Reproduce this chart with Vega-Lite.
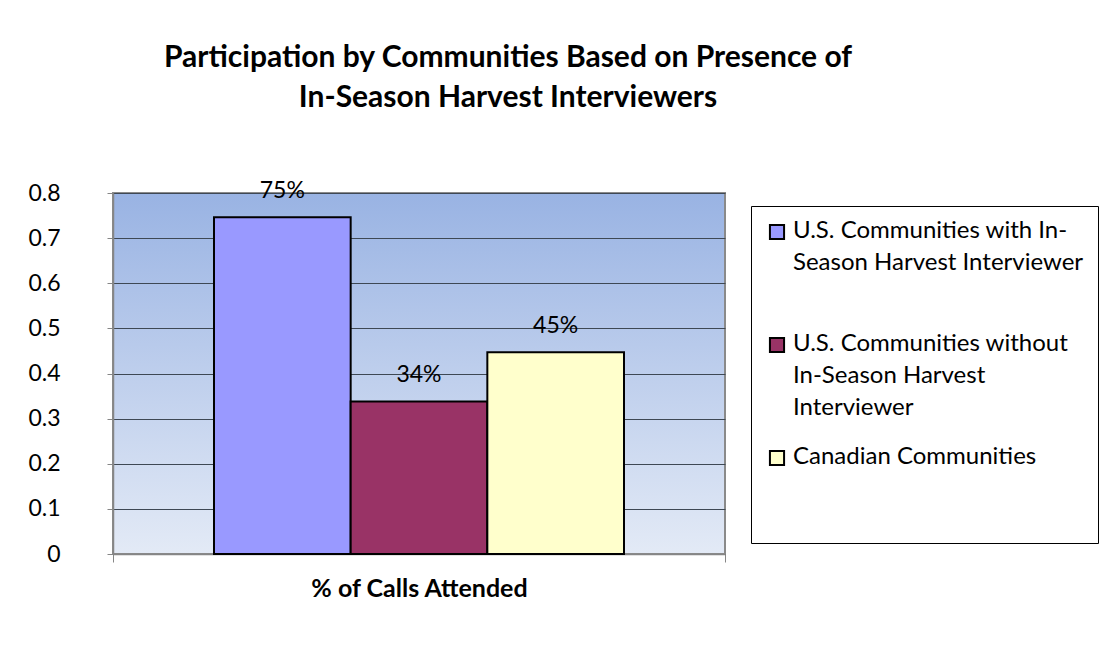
{
  "$schema": "https://vega.github.io/schema/vega-lite/v6.json",
  "width": 612,
  "height": 361,
  "autosize": {"type": "none"},
  "padding": {"left": 113, "top": 193, "right": 379, "bottom": 92},
  "background": "white",
  "title": {
    "text": ["Participation by Communities Based on Presence of", "In-Season Harvest Interviewers"],
    "font": "Lato",
    "fontSize": 30,
    "fontWeight": "bold",
    "color": "black",
    "anchor": "middle",
    "frame": "group",
    "dx": 89,
    "offset": 67,
    "lineHeight": 40
  },
  "data": {
    "values": [
      {"cat": "% of Calls Attended", "series": "U.S. Communities with In-Season Harvest Interviewer", "value": 0.746},
      {"cat": "% of Calls Attended", "series": "U.S. Communities without In-Season Harvest Interviewer", "value": 0.338},
      {"cat": "% of Calls Attended", "series": "Canadian Communities", "value": 0.447}
    ]
  },
  "encoding": {
    "x": {
      "field": "cat",
      "type": "nominal",
      "scale": {"paddingInner": 0, "paddingOuter": 0},
      "axis": {
        "labels": false,
        "title": "% of Calls Attended",
        "titleFont": "Lato",
        "titleFontSize": 25,
        "titleFontWeight": "bold",
        "titleColor": "black",
        "titlePadding": 14,
        "tickBand": "extent",
        "tickSize": 8,
        "tickColor": "#868686",
        "domainColor": "#868686",
        "domainWidth": 1.5,
        "grid": false
      }
    },
    "xOffset": {
      "field": "series",
      "type": "nominal",
      "sort": null,
      "scale": {"paddingInner": 0, "paddingOuter": 0.739}
    },
    "y": {
      "field": "value",
      "type": "quantitative",
      "scale": {"domain": [0, 0.8], "nice": false},
      "axis": {
        "values": [0, 0.1, 0.2, 0.3, 0.4, 0.5, 0.6, 0.7, 0.8],
        "format": ".1~f",
        "title": null,
        "labelFont": "Lato",
        "labelFontSize": 23,
        "labelColor": "black",
        "labelPadding": 47,
        "tickSize": 6,
        "tickColor": "#868686",
        "domainColor": "#868686",
        "domainWidth": 1.5,
        "grid": true,
        "gridColor": "#3e4854",
        "gridWidth": 1
      }
    }
  },
  "layer": [
    {
      "mark": {"type": "bar", "stroke": "black", "strokeWidth": 2},
      "encoding": {
        "color": {
          "field": "series",
          "type": "nominal",
          "sort": null,
          "scale": {
            "domain": ["U.S. Communities with In-Season Harvest Interviewer", "U.S. Communities without In-Season Harvest Interviewer", "Canadian Communities"],
            "range": ["#9999ff", "#993366", "#ffffcc"]
          },
          "legend": {
            "orient": "none",
            "legendX": 638,
            "legendY": 13,
            "title": " ",
            "titleOrient": "bottom",
            "titleFontSize": 40,
            "titlePadding": 20,
            "strokeColor": "black",
            "padding": 14,
            "symbolType": "square",
            "symbolSize": 200,
            "symbolStrokeColor": "black",
            "symbolStrokeWidth": 2,
            "labelFont": "Lato",
            "labelFontSize": 24,
            "labelColor": "black",
            "labelLimit": 400,
            "labelBaseline": "top",
            "labelOffset": 4,
            "gridAlign": "all",
            "rowPadding": 25,
            "labelExpr": "datum.label == 'U.S. Communities with In-Season Harvest Interviewer' ? ['U.S. Communities with In-', 'Season Harvest Interviewer'] : datum.label == 'U.S. Communities without In-Season Harvest Interviewer' ? ['U.S. Communities without', 'In-Season Harvest', 'Interviewer'] : datum.label",
            "encode": {
              "labels": {"update": {"lineHeight": {"value": 32}, "dy": {"value": -13}}}
            }
          }
        }
      }
    },
    {
      "mark": {"type": "text", "dy": -26, "baseline": "middle", "font": "Lato", "fontSize": 23, "color": "black"},
      "encoding": {
        "text": {"field": "value", "type": "quantitative", "format": ".0%"}
      }
    }
  ],
  "config": {
    "view": {
      "fill": {"gradient": "linear", "x1": 0, "y1": 0, "x2": 0, "y2": 1, "stops": [{"offset": 0, "color": "#99b3e3"}, {"offset": 1, "color": "#e3eaf6"}]},
      "stroke": "#8a8a8a",
      "strokeWidth": 2
    }
  }
}
